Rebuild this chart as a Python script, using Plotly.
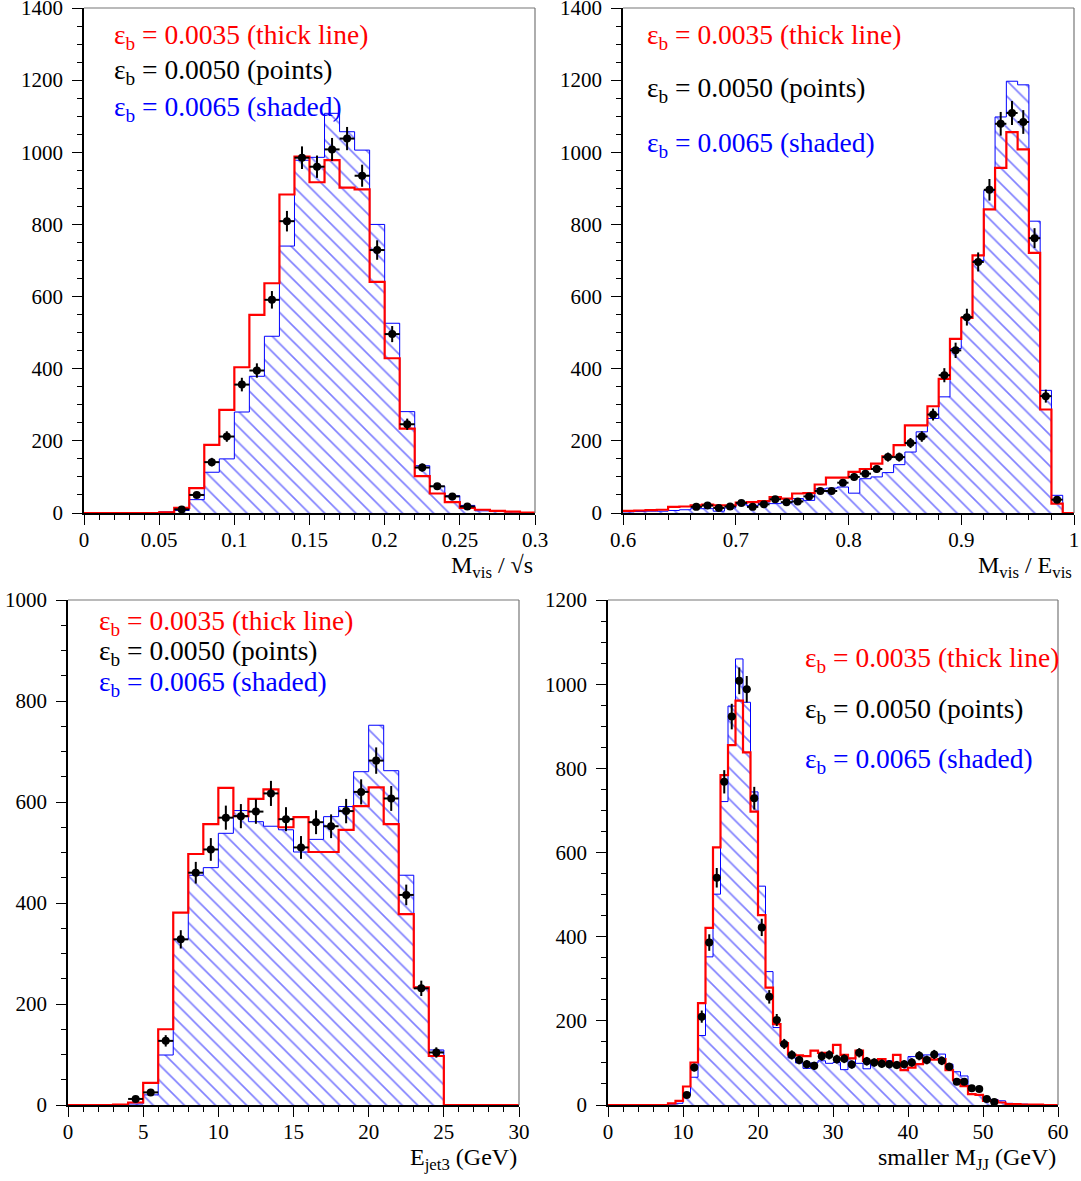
import numpy as np
import plotly.graph_objects as go

# ---------------- data ----------------
# Panel 1: M_vis / sqrt(s), 30 bins 0..0.3
p1_edges = np.linspace(0.0, 0.3, 31)
p1_red = [0, 0, 0, 0, 0, 2, 14, 69, 189, 286, 404, 549, 637, 883, 988, 917, 978, 902, 897, 641,
          429, 234, 102, 54, 30, 14, 9, 6, 4, 1]
p1_blue = [0, 0, 0, 0, 0, 3, 7, 37, 113, 150, 280, 379, 490, 740, 978, 986, 1108, 1057, 1006, 800,
           526, 281, 131, 74, 48, 21, 6, 4, 3, 1]
p1_pts_first = 6
p1_pts = [10, 50, 141, 212, 356, 395, 591, 809, 985, 960, 1008, 1038, 935, 729, 496, 246, 126, 74, 46, 18]

# Panel 2: M_vis / E_vis, 40 bins 0.6..1.0
p2_edges = np.linspace(0.6, 1.0, 41)
p2_red = [6, 7, 8, 9, 17, 18, 21, 23, 21, 21, 29, 30, 33, 44, 40, 54, 55, 79, 98, 98,
          114, 122, 137, 157, 188, 243, 243, 296, 372, 483, 541, 714, 842, 957, 1056, 1008, 721, 287, 26, 0]
p2_blue = [3, 4, 5, 5, 7, 9, 12, 12, 5, 14, 23, 21, 28, 26, 28, 40, 35, 67, 69, 72,
           55, 95, 100, 112, 134, 169, 225, 262, 322, 456, 541, 700, 894, 1098, 1197, 1187, 809, 340, 49, 0]
p2_pts_first = 6
p2_pts = [17, 21, 14, 18, 28, 17, 24, 38, 30, 32, 46, 61, 61, 84, 100, 109, 122, 155, 155, 194,
          212, 273, 382, 451, 543, 696, 896, 1079, 1109, 1084, 762, 324, 37]

# Panel 3: E_jet3 (GeV), 30 bins 0..30
p3_edges = np.linspace(0.0, 30.0, 31)
p3_red = [0, 0, 0, 1, 5, 44, 150, 381, 497, 556, 628, 572, 606, 625, 550, 570, 501, 501, 545, 592,
          629, 556, 378, 233, 97, 0, 0, 0, 0, 0]
p3_blue = [0, 0, 0, 1, 2, 20, 99, 328, 455, 470, 538, 583, 561, 552, 545, 501, 526, 571, 591, 660,
           752, 662, 455, 233, 109, 0, 0, 0, 0, 0]
p3_pts_first = 4
p3_pts = [12, 25, 127, 328, 460, 506, 569, 572, 581, 617, 566, 510, 560, 552, 582, 620, 682, 607, 416, 231, 104]

# Panel 4: smaller M_JJ (GeV), 60 bins 0..60
p4_edges = np.linspace(0.0, 60.0, 61)
p4_red = [0, 0, 0, 0, 0, 0, 0, 0, 4, 10, 44, 101, 242, 421, 612, 784, 855, 961, 838, 697,
          451, 279, 192, 147, 120, 118, 116, 129, 124, 124, 143, 119, 111, 129, 105, 103, 109, 99, 119, 83,
          89, 97, 111, 108, 109, 83, 59, 45, 26, 24, 10, 10, 6, 2, 2, 1, 1, 1, 0, 0]
p4_blue = [0, 0, 0, 0, 0, 0, 0, 0, 2, 4, 24, 66, 165, 352, 501, 721, 948, 1060, 957, 744,
           520, 317, 184, 141, 112, 100, 87, 100, 105, 99, 101, 84, 111, 99, 86, 101, 109, 105, 99, 101,
           115, 115, 119, 119, 121, 97, 79, 69, 26, 24, 16, 13, 10, 4, 3, 2, 1, 1, 0, 0]
p4_pts_first = 10
p4_pts = [24, 89, 210, 386, 540, 768, 923, 1008, 988, 729, 422, 257, 202, 145, 119, 107, 97, 93, 116, 119,
          109, 110, 96, 124, 104, 101, 98, 97, 95, 97, 101, 117, 107, 120, 105, 91, 55, 55, 40, 38, 14, 7]

legend_lines = ["ε<sub>b</sub> = 0.0035 (thick line)",
                "ε<sub>b</sub> = 0.0050 (points)",
                "ε<sub>b</sub> = 0.0065 (shaded)"]
legend_colors = ["#ff0000", "#000000", "#0000ff"]

x_titles = ["M<sub>vis</sub> / √s", "M<sub>vis</sub> / E<sub>vis</sub>",
            "E<sub>jet3</sub> (GeV)", "smaller M<sub>JJ</sub> (GeV)"]

# ---------------- layout geometry (pixels) ----------------
W, H = 1081, 1181
FONT = "Liberation Serif"
panels = [
    dict(edges=p1_edges, red=p1_red, blue=p1_blue, pts=p1_pts, first=p1_pts_first,
         px=(84, 535), py=(8, 513), xr=[0, 0.3], xd=0.05, xm=0.01, yr=[0, 1400],
         leg_x=112, leg_y=[36, 72, 108]),
    dict(edges=p2_edges, red=p2_red, blue=p2_blue, pts=p2_pts, first=p2_pts_first,
         px=(623, 1074), py=(8, 513), xr=[0.6, 1.0], xd=0.1, xm=0.02, yr=[0, 1400],
         leg_x=645, leg_y=[36, 90, 144]),
    dict(edges=p3_edges, red=p3_red, blue=p3_blue, pts=p3_pts, first=p3_pts_first,
         px=(68, 519), py=(600, 1105), xr=[0, 30], xd=5, xm=1, yr=[0, 1000],
         leg_x=97, leg_y=[622, 652, 683]),
    dict(edges=p4_edges, red=p4_red, blue=p4_blue, pts=p4_pts, first=p4_pts_first,
         px=(608, 1058), py=(600, 1105), xr=[0, 60], xd=10, xm=2, yr=[0, 1200],
         leg_x=803, leg_y=[660, 710, 760]),
]

fig = go.Figure()
annotations = []
shapes = []

for i, p in enumerate(panels):
    n = i + 1
    xa = "x" if n == 1 else f"x{n}"
    ya = "y" if n == 1 else f"y{n}"
    edges = p["edges"]
    bw = edges[1] - edges[0]
    centers = (edges[:-1] + edges[1:]) / 2

    # shaded histogram
    yb = list(p["blue"]) + [p["blue"][-1]]
    fig.add_trace(go.Scatter(
        x=edges, y=yb, mode="lines", xaxis=xa, yaxis=ya,
        line=dict(shape="hv", color="#0000ff", width=1),
        fill="tozeroy", fillcolor="white",
        fillpattern=dict(shape="\\", fgcolor="#0000ff", bgcolor="white", size=11, solidity=0.15),
        showlegend=False, hoverinfo="skip"))
    # thick line histogram
    yr_ = list(p["red"]) + [p["red"][-1]]
    fig.add_trace(go.Scatter(
        x=edges, y=yr_, mode="lines", xaxis=xa, yaxis=ya,
        line=dict(shape="hv", color="#ff0000", width=2.2),
        showlegend=False, hoverinfo="skip"))
    # points
    pts = np.array(p["pts"], dtype=float)
    pc = centers[p["first"]:p["first"] + len(pts)]
    fig.add_trace(go.Scatter(
        x=pc, y=pts, mode="markers", xaxis=xa, yaxis=ya,
        marker=dict(color="black", size=8),
        error_y=dict(type="data", array=np.sqrt(pts), color="black", thickness=2, width=0),
        error_x=dict(type="constant", value=bw / 2, color="black", thickness=2, width=0),
        showlegend=False, hoverinfo="skip"))

    x0, x1 = p["px"]
    y0, y1 = p["py"]
    dom_x = [x0 / W, x1 / W]
    dom_y = [1 - y1 / H, 1 - y0 / H]
    axis_common = dict(showgrid=False, zeroline=False, showline=True, linecolor="black",
                       linewidth=1.6, ticks="outside", ticklen=10, tickwidth=1, tickcolor="black",
                       automargin=False, ticklabeloverflow="allow",
                       tickfont=dict(family=FONT, size=21, color="black"), fixedrange=True)
    fig.layout[("xaxis" if n == 1 else f"xaxis{n}")] = dict(
        axis_common, domain=dom_x, range=p["xr"], anchor=ya, tick0=p["xr"][0], dtick=p["xd"],
        ticklabelstandoff=-3,
        minor=dict(dtick=p["xm"], tick0=p["xr"][0], ticks="outside", ticklen=5, tickcolor="black", tickwidth=1))
    fig.layout[("yaxis" if n == 1 else f"yaxis{n}")] = dict(
        axis_common, domain=dom_y, range=p["yr"], anchor=xa, tick0=0, dtick=200,
        ticklabelstandoff=5,
        minor=dict(dtick=50, tick0=0, ticks="outside", ticklen=5, tickcolor="black", tickwidth=1))

    # frame top/right lines
    shapes.append(dict(type="line", xref=f"{xa} domain", yref=f"{ya} domain", x0=0, x1=1, y0=1, y1=1,
                       line=dict(color="#777777", width=1.2)))
    shapes.append(dict(type="line", xref=f"{xa} domain", yref=f"{ya} domain", x0=1, x1=1, y0=0, y1=1,
                       line=dict(color="#777777", width=1.2)))

    # legend text
    for txt, col, ly in zip(legend_lines, legend_colors, p["leg_y"]):
        annotations.append(dict(text=txt, x=p["leg_x"] / W, y=1 - ly / H, xref="paper", yref="paper",
                                xanchor="left", yanchor="middle", showarrow=False,
                                font=dict(family=FONT, size=27.5, color=col)))
    # axis title
    annotations.append(dict(text=x_titles[i], x=x1 / W, y=1 - (y1 + 54) / H, xref="paper", yref="paper",
                            xanchor="right", yanchor="middle", showarrow=False,
                            font=dict(family=FONT, size=24, color="black")))

fig.update_layout(width=W, height=H, margin=dict(l=0, r=0, t=0, b=0, autoexpand=False),
                  paper_bgcolor="white", plot_bgcolor="white",
                  annotations=annotations, shapes=shapes, showlegend=False)

fig.write_html("out.html", config={"displayModeBar": False},
               post_script="document.body.style.margin='0px';")
